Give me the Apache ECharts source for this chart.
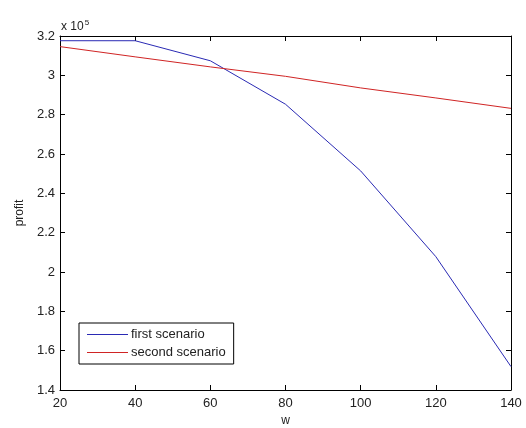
<!DOCTYPE html>
<html><head><meta charset="utf-8">
<script src="https://cdn.jsdelivr.net/npm/echarts@6/dist/echarts.min.js"></script>
<style>html,body{margin:0;padding:0;background:#fff}#c{width:526px;height:428px}</style>
</head><body><div id="c"></div>
<script>
const wValues = [20, 40, 60, 80, 100, 120, 140];
const firstScenario = [3.176, 3.176, 3.074, 2.853, 2.514, 2.078, 1.519];
const secondScenario = [3.146, 3.094, 3.043, 2.995, 2.936, 2.885, 2.832];
const seriesNames = ['first scenario', 'second scenario'];
const xTitle = 'w';
const yTitle = 'profit';
const scaleNote = 'x 10';
const scaleExp = '5';

const font = 'Liberation Sans, Arial, sans-serif';
const chart = echarts.init(document.getElementById('c'), null, {renderer: 'canvas'});
const fmt = v => parseFloat(v.toFixed(1)).toString();
const tick = {show: true, inside: true, length: 5, lineStyle: {color: '#000', width: 1}};
const line = {show: true, onZero: false, lineStyle: {color: '#000', width: 1}};
chart.setOption({
  animation: false,
  backgroundColor: '#fff',
  grid: {left: 60, right: 15, top: 36, bottom: 38, containLabel: false, outerBoundsMode: 'none'},
  xAxis: [{
    type: 'value', min: 20, max: 140, interval: 20,
    axisLine: line, axisTick: tick, splitLine: {show: false},
    axisLabel: {color: '#222', fontFamily: font, fontSize: 13, margin: 7, formatter: fmt},
    name: xTitle, nameLocation: 'middle', nameGap: 25,
    nameTextStyle: {color: '#222', fontFamily: font, fontSize: 12}
  }, {
    type: 'value', position: 'top', min: 20, max: 140, interval: 20,
    axisLine: line, axisTick: tick, splitLine: {show: false}, axisLabel: {show: false}
  }],
  yAxis: [{
    type: 'value', min: 1.4, max: 3.2, interval: 0.2,
    axisLine: line, axisTick: tick, splitLine: {show: false},
    axisLabel: {color: '#222', fontFamily: font, fontSize: 13, margin: 5, formatter: fmt},
    name: yTitle, nameLocation: 'middle', nameGap: 23, nameRotate: 90,
    nameTextStyle: {color: '#222', fontFamily: font, fontSize: 12}
  }, {
    type: 'value', position: 'right', min: 1.4, max: 3.2, interval: 0.2,
    axisLine: line, axisTick: tick, splitLine: {show: false}, axisLabel: {show: false}
  }],
  legend: {
    orient: 'vertical', left: 79, top: 323, width: 159,
    borderColor: '#000', borderWidth: 1, padding: [5, 8, 5, 8],
    itemGap: 5, itemWidth: 41, itemHeight: 1, icon: 'rect',
    textStyle: {color: '#222', fontFamily: font, fontSize: 13, padding: [0, 0, 0, -2]},
    backgroundColor: '#fff',
    data: seriesNames
  },
  graphic: [{
    type: 'text', left: 61, top: 19,
    style: {
      text: scaleNote + '{s|' + scaleExp + '}',
      fill: '#222', font: '12px ' + font,
      rich: {s: {fontSize: 8, verticalAlign: 'top', padding: [0, 0, 8, 1], fill: '#222'}}
    }
  }],
  series: [{
    name: seriesNames[0], type: 'line', showSymbol: false, symbol: 'none',
    data: wValues.map((w, i) => [w, firstScenario[i]]),
    lineStyle: {color: '#2a2ab4', width: 1}, itemStyle: {color: '#2a2ab4'}
  }, {
    name: seriesNames[1], type: 'line', showSymbol: false, symbol: 'none',
    data: wValues.map((w, i) => [w, secondScenario[i]]),
    lineStyle: {color: '#d02424', width: 1}, itemStyle: {color: '#d02424'}
  }]
});
</script></body></html>
